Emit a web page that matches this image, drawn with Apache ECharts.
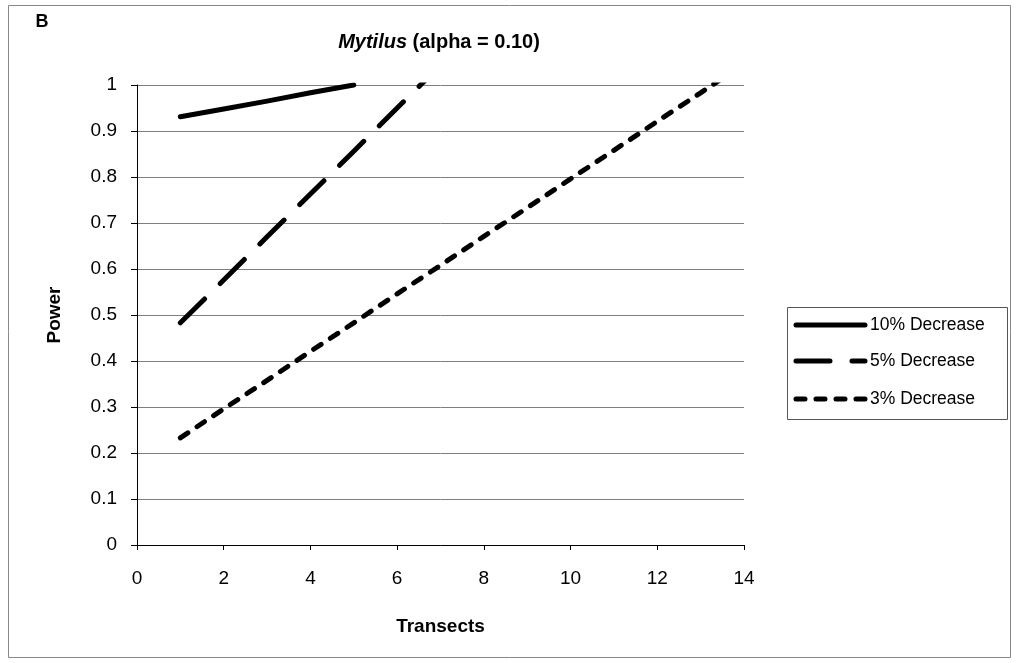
<!DOCTYPE html>
<html>
<head>
<meta charset="utf-8">
<script src="https://cdn.jsdelivr.net/npm/echarts@6/dist/echarts.min.js"></script>
<style>
  html, body { margin: 0; padding: 0; background: #fff; }
  #chart { width: 1018px; height: 663px; }
</style>
</head>
<body>
<div id="chart"></div>
<script>
// Power of detecting a decline vs. number of transects (Mytilus, alpha = 0.10)
const transects = [1, 2, 3, 4, 5, 6, 7, 8, 9, 10, 11, 12, 13, 14];
const seriesNames = ['10% Decrease', '5% Decrease', '3% Decrease'];
const power10 = [0.931, 0.948, 0.965, 0.983, 1.0];
const power5 = [0.483, 0.576, 0.670, 0.763, 0.856, 0.950, 1.043];
const power3 = [0.233, 0.296, 0.358, 0.421, 0.483, 0.546, 0.608, 0.671, 0.733, 0.796, 0.858, 0.921, 0.983, 1.046];
const xTicks = [0, 2, 4, 6, 8, 10, 12, 14];

const FONT = '"Liberation Sans", Arial, sans-serif';

function pairs(values) {
  return values.map((v, i) => [transects[i], v]);
}

// shared stroke style; each series only changes its dash pattern
const lineBase = { color: '#000', width: 5, cap: 'round', join: 'round' };
const dashes = ['solid', [34, 22], [9, 11]];

// Boxed key on the right, drawn as graphic elements
const legendBox = { x: 787.5, y: 307.5, w: 220, h: 112 };
const legendRows = [325, 361, 399];
const legendGraphics = [
  {
    type: 'rect',
    shape: { x: legendBox.x, y: legendBox.y, width: legendBox.w, height: legendBox.h },
    style: { fill: '#fff', stroke: '#555', lineWidth: 1 },
    silent: true
  }
];
seriesNames.forEach((name, i) => {
  legendGraphics.push({
    type: 'line',
    shape: { x1: 796, y1: legendRows[i], x2: 865, y2: legendRows[i] },
    style: {
      stroke: '#000', lineWidth: 5, lineCap: 'round',
      lineDash: dashes[i] === 'solid' ? null : dashes[i]
    },
    silent: true
  });
  legendGraphics.push({
    type: 'text',
    x: 870, y: legendRows[i],
    style: { text: name, font: '17.5px ' + FONT, fill: '#000', verticalAlign: 'middle' },
    silent: true
  });
});

const chart = echarts.init(document.getElementById('chart'), null, { renderer: 'canvas' });

chart.setOption({
  animation: false,
  backgroundColor: '#fff',
  grid: { left: 137, right: 274, top: 85, bottom: 118, containLabel: false },
  graphic: [
    {
      type: 'rect',
      shape: { x: 8.5, y: 5.5, width: 1002, height: 652 },
      style: { fill: 'none', stroke: '#888', lineWidth: 1 },
      silent: true
    },
    {
      type: 'text',
      x: 42, y: 22,
      style: { text: 'B', font: 'bold 18px ' + FONT, fill: '#000', align: 'center', verticalAlign: 'middle' }
    },
    {
      type: 'text',
      x: 439, y: 42,
      style: {
        text: '{i|Mytilus}{b| (alpha = 0.10)}',
        align: 'center',
        verticalAlign: 'middle',
        rich: {
          i: { fontFamily: FONT, fontSize: 20, fontWeight: 'bold', fontStyle: 'italic', fill: '#000' },
          b: { fontFamily: FONT, fontSize: 20, fontWeight: 'bold', fill: '#000' }
        }
      }
    }
  ].concat(legendGraphics),
  xAxis: {
    type: 'value',
    min: 0,
    max: 14,
    interval: 2,
    name: 'Transects',
    nameLocation: 'middle',
    nameGap: 72,
    nameTextStyle: { fontFamily: FONT, fontSize: 19, fontWeight: 'bold', color: '#000' },
    axisLine: { show: true, lineStyle: { color: '#000', width: 1 } },
    axisTick: { show: true, length: 5, lineStyle: { color: '#000' } },
    axisLabel: {
      fontFamily: FONT, fontSize: 19, color: '#000', margin: 24,
      formatter: v => (xTicks.includes(v) ? String(v) : '')
    },
    splitLine: { show: false }
  },
  yAxis: {
    type: 'value',
    min: 0,
    max: 1,
    interval: 0.1,
    name: 'Power',
    nameLocation: 'middle',
    nameGap: 73,
    nameRotate: 90,
    nameTextStyle: { fontFamily: FONT, fontSize: 19, fontWeight: 'bold', color: '#000' },
    axisLine: { show: true, lineStyle: { color: '#000', width: 1 } },
    axisTick: { show: true, length: 6, lineStyle: { color: '#000' } },
    axisLabel: {
      fontFamily: FONT, fontSize: 19, color: '#000', margin: 20,
      formatter: v => String(Math.round(v * 10) / 10)
    },
    splitLine: { show: true, lineStyle: { color: '#7f7f7f', width: 1 } }
  },
  series: [power10, power5, power3].map((vals, i) => ({
    name: seriesNames[i],
    type: 'line',
    data: pairs(vals),
    symbol: 'none',
    clip: true,
    color: '#000',
    lineStyle: Object.assign({}, lineBase, { type: dashes[i] })
  }))
});
</script>
</body>
</html>
